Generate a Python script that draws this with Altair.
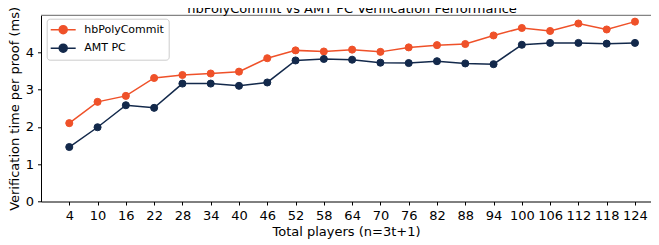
import altair as alt
import pandas as pd

players = [4, 10, 16, 22, 28, 34, 40, 46, 52, 58, 64, 70, 76, 82, 88, 94, 100, 106, 112, 118, 124]
hb_poly = [2.10, 2.67, 2.83, 3.31, 3.39, 3.43, 3.48, 3.84, 4.05, 4.02, 4.07, 4.01, 4.13, 4.19, 4.22, 4.45, 4.65, 4.57, 4.77, 4.61, 4.82]
amt_pc = [1.46, 1.99, 2.58, 2.51, 3.16, 3.16, 3.10, 3.19, 3.78, 3.82, 3.80, 3.72, 3.71, 3.76, 3.70, 3.68, 4.20, 4.25, 4.25, 4.23, 4.25]
series_names = ["hbPolyCommit", "AMT PC"]
colors = ["#EF5129", "#13294B"]
y_ticks = [0, 1, 2, 3, 4]
title_text = ["hbPolyCommit vs AMT PC Verification Performance"]

rows = []
for p, h, a in zip(players, hb_poly, amt_pc):
    rows.append({"players": p, "series": "hbPolyCommit", "time": h})
    rows.append({"players": p, "series": "AMT PC", "time": a})
df = pd.DataFrame(rows)

FONT = "DejaVu Sans"

x_enc = alt.X(
    "players:Q",
    scale=alt.Scale(domain=[-2, 127.4], nice=False, zero=False),
    axis=alt.Axis(values=players, title="Total players (n=3t+1)", grid=False,
                  labelFontSize=13, titleFontSize=13, titleFontWeight="normal",
                  tickSize=3.5, labelPadding=4.5, titlePadding=3,
                  domainColor="black", tickColor="black", labelColor="black", titleColor="black",
                  labelFlush=False, labelOverlap=False),
)
y_enc = alt.Y(
    "time:Q",
    scale=alt.Scale(domain=[0, 4.99], nice=False),
    axis=alt.Axis(values=y_ticks, title="Verification time per proof (ms)", grid=False,
                  labelFontSize=13, titleFontSize=13, titleFontWeight="normal",
                  tickSize=3.5, labelPadding=4, titlePadding=4,
                  domainColor="black", tickColor="black", labelColor="black", titleColor="black",
                  labelFlush=False),
)

cscale = alt.Scale(domain=series_names, range=colors)

lines = alt.Chart(df).mark_line(strokeWidth=1.5).encode(
    x=x_enc, y=y_enc,
    stroke=alt.Stroke("series:N", scale=cscale, sort=series_names, title=None),
)
points = alt.Chart(df).mark_point(filled=True, size=50, opacity=1, strokeWidth=1).encode(
    x=x_enc, y=y_enc,
    stroke=alt.Stroke("series:N", scale=cscale, sort=series_names, title=None),
    fill=alt.Fill("series:N", scale=cscale, sort=series_names, title=None),
)
top_spine = alt.Chart(pd.DataFrame({"v": [0]})).mark_rule(color="#666666", strokeWidth=1).encode(
    y=alt.value(0), x=alt.value(0), x2=alt.value(640)
)
title_mark = alt.Chart(pd.DataFrame({"t": title_text})).mark_text(
    font=FONT, fontSize=13, color="black", align="center", baseline="alphabetic"
).encode(text="t:N", x=alt.value(311), y=alt.value(-2.5))

legend_path = "M-2,0H2M-0.64,0A0.64,0.64,0,1,1,0.64,0A0.64,0.64,0,1,1,-0.64,0Z"

chart = alt.layer(top_spine, title_mark, lines, points).properties(
    width=610,
    height=186.2,
    autosize=alt.AutoSizeParams(type="none"),
    padding={"left": 33, "top": 7.3, "right": 0, "bottom": 40},
).configure(font=FONT).configure_view(stroke=None).configure_legend(
    orient="none", legendX=5.7, legendY=3.4, title=None,
    symbolType=legend_path, symbolSize=156, symbolStrokeWidth=1.5,
    labelFont=FONT, labelFontSize=11, labelColor="black",
    padding=4, rowPadding=4.5, symbolOffset=5.5, labelOffset=14,
    strokeColor="#cccccc", fillColor="rgba(255,255,255,0.8)", cornerRadius=3,
)

chart.save("out.html", embed_options={"renderer": "svg", "actions": False})
